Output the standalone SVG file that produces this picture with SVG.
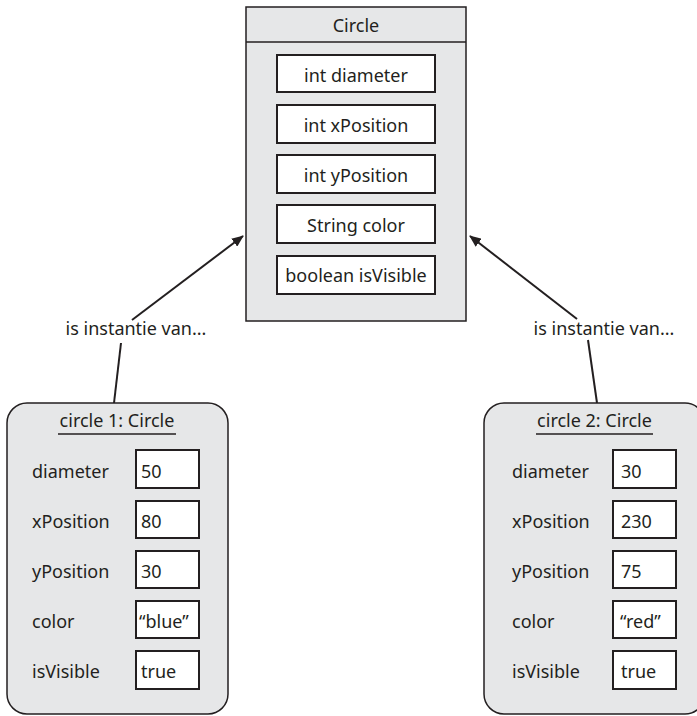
<svg xmlns="http://www.w3.org/2000/svg" width="697" height="716" viewBox="0 0 697 716">
<style>
text{font-family:"Noto Sans","Open Sans",sans-serif;font-size:18px;fill:#231f20}
.c{text-anchor:middle}
.panel{fill:#e6e7e8;stroke:#231f20;stroke-width:1.5}
.field{fill:#fff;stroke:#231f20;stroke-width:2}
.conn{stroke:#231f20;stroke-width:2;fill:none}
</style>
<defs>
<marker id="ah" viewBox="0 0 12 10" refX="11" refY="5" markerWidth="12" markerHeight="10" markerUnits="userSpaceOnUse" orient="auto">
<path d="M0,0 L12,5 L0,10 Z" fill="#231f20"/>
</marker>
</defs>
<rect x="0" y="0" width="697" height="716" fill="#fff"/>
<g id="class-circle">
<rect class="panel" x="246" y="7" width="220" height="314"/>
<line x1="246" y1="42" x2="466" y2="42" stroke="#231f20" stroke-width="1.5"/>
<text class="c" x="356" y="32">Circle</text>
<rect class="field" x="277" y="55" width="158" height="37"/>
<text class="c" x="356" y="81.5">int diameter</text>
<rect class="field" x="277" y="105" width="158" height="38"/>
<text class="c" x="356" y="131.5">int xPosition</text>
<rect class="field" x="277" y="155" width="158" height="38"/>
<text class="c" x="356" y="181.5">int yPosition</text>
<rect class="field" x="277" y="205" width="158" height="38"/>
<text class="c" x="356" y="231.5">String color</text>
<rect class="field" x="277" y="256" width="158" height="38"/>
<text class="c" x="356" y="281.5">boolean isVisible</text>
</g>
<g id="connectors">
<line class="conn" x1="114" y1="403" x2="121" y2="343"/>
<line class="conn" x1="132" y1="320" x2="243" y2="236" marker-end="url(#ah)"/>
<text class="c" x="136" y="335">is instantie van...</text>
<line class="conn" x1="597" y1="403" x2="588" y2="340"/>
<line class="conn" x1="577" y1="319" x2="470" y2="236" marker-end="url(#ah)"/>
<text class="c" x="604" y="335">is instantie van...</text>
</g>
<g id="circle1">
<rect class="panel" x="7" y="403" width="221" height="311" rx="20" ry="20"/>
<text class="c" x="117" y="427">circle 1: Circle</text>
<line x1="58" y1="434" x2="176" y2="434" stroke="#231f20" stroke-width="1.5"/>
<text x="32" y="478">diameter</text>
<rect class="field" x="136" y="450" width="63" height="38"/>
<text x="141" y="478">50</text>
<text x="32" y="528">xPosition</text>
<rect class="field" x="136" y="501" width="63" height="37"/>
<text x="141" y="528">80</text>
<text x="32" y="578">yPosition</text>
<rect class="field" x="136" y="551" width="63" height="37"/>
<text x="141" y="578">30</text>
<text x="32" y="628">color</text>
<rect class="field" x="136" y="601" width="63" height="37"/>
<text x="139" y="628">“blue”</text>
<text x="32" y="678">isVisible</text>
<rect class="field" x="136" y="651" width="63" height="38"/>
<text x="141" y="678">true</text>
</g>
<g id="circle2">
<rect class="panel" x="484" y="403" width="221" height="311" rx="20" ry="20"/>
<text class="c" x="594.5" y="427">circle 2: Circle</text>
<line x1="536" y1="434" x2="653" y2="434" stroke="#231f20" stroke-width="1.5"/>
<text x="512" y="478">diameter</text>
<rect class="field" x="613" y="450" width="63" height="38"/>
<text x="621" y="478">30</text>
<text x="512" y="528">xPosition</text>
<rect class="field" x="613" y="501" width="63" height="37"/>
<text x="621" y="528">230</text>
<text x="512" y="578">yPosition</text>
<rect class="field" x="613" y="551" width="63" height="37"/>
<text x="621" y="578">75</text>
<text x="512" y="628">color</text>
<rect class="field" x="613" y="601" width="63" height="37"/>
<text x="620" y="628">“red”</text>
<text x="512" y="678">isVisible</text>
<rect class="field" x="613" y="651" width="63" height="38"/>
<text x="621" y="678">true</text>
</g>
</svg>
